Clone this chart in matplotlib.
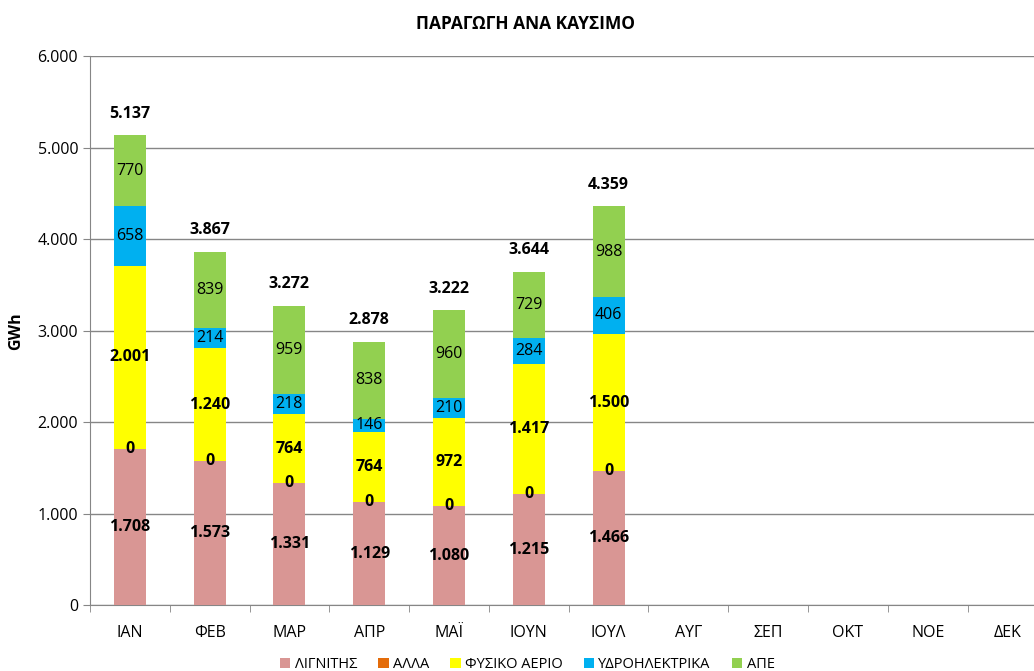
import matplotlib
matplotlib.use('Agg')
import matplotlib.pyplot as plt
import numpy as np

# Δεδομένα
months = ['ΙΑΝ', 'ΦΕΒ', 'ΜΑΡ', 'ΑΠΡ', 'ΜΑΪ', 'ΙΟΥΝ', 'ΙΟΥΛ', 'ΑΥΓ', 'ΣΕΠ', 'ΟΚΤ', 'ΝΟΕ', 'ΔΕΚ']
lignite = [1708, 1573, 1331, 1129, 1080, 1215, 1466]
other = [0, 0, 0, 0, 0, 0, 0]
gas = [2001, 1240, 764, 764, 972, 1417, 1500]
hydro = [658, 214, 218, 146, 210, 284, 406]
res = [770, 839, 959, 838, 960, 729, 988]
totals = [5137, 3867, 3272, 2878, 3222, 3644, 4359]

series_names = ['ΛΙΓΝΙΤΗΣ', 'ΑΛΛΑ', 'ΦΥΣΙΚΟ ΑΕΡΙΟ', 'ΥΔΡΟΗΛΕΚΤΡΙΚΑ', 'ΑΠΕ']
colors = ['#D99694', '#E46C0A', '#FFFF00', '#00B0F0', '#92D050']

plt.rcParams['font.family'] = ['Open Sans', 'DejaVu Sans']


def fmt(v):
    return f'{v:,.0f}'.replace(',', '.')


fig = plt.figure(figsize=(10.34, 6.71), dpi=100)
# ο άξονας συνεχίζει πέρα από το δεξί άκρο της εικόνας (όπως στο πρωτότυπο)
ax = fig.add_axes([0.087, 0.098, 0.926, 0.818])

x = np.arange(len(lignite))
width = 0.40
bottom = np.zeros(len(lignite))
all_series = [lignite, other, gas, hydro, res]
bold_flags = [True, True, True, False, False]
for vals, name, col, bold in zip(all_series, series_names, colors, bold_flags):
    vals = np.array(vals, dtype=float)
    ax.bar(x, vals, width, bottom=bottom, color=col, label=name, zorder=3)
    for xi, b, v in zip(x, bottom, vals):
        ax.text(xi, b + v / 2, fmt(v), ha='center', va='center', fontsize=11.5,
                fontweight='bold' if bold else 'normal', zorder=4)
    bottom = bottom + vals

for xi, t in zip(x, totals):
    ax.text(xi, t + 150, fmt(t), ha='center', va='bottom', fontsize=11.5,
            fontweight='bold')

ax.set_xlim(-0.5, len(months) - 0.5)
ax.set_ylim(0, 6000)
ax.set_yticks(np.arange(0, 6001, 1000))
ax.set_yticklabels([fmt(v) for v in np.arange(0, 6001, 1000)], fontsize=11.5)
ax.set_xticks(np.arange(len(months)))
ax.set_xticklabels(months, fontsize=11.5)
ax.set_xticks(np.arange(-0.5, len(months), 1), minor=True)
ax.tick_params(axis='x', which='major', length=0, pad=14)
ax.tick_params(axis='x', which='minor', length=5, color='#868686')
ax.tick_params(axis='y', length=5, color='#868686')
ax.yaxis.grid(True, color='#868686', linewidth=1, zorder=0)

for s in ['top', 'right']:
    ax.spines[s].set_visible(False)
ax.spines['left'].set_color('#868686')
ax.spines['bottom'].set_color('#868686')

ax.set_ylabel('GWh', fontsize=11.5, fontweight='bold', labelpad=10)
fig.suptitle('ΠΑΡΑΓΩΓΗ ΑΝΑ ΚΑΥΣΙΜΟ', fontsize=12.5, fontweight='bold', x=0.508, y=0.978)

ax.legend(loc='center', bbox_to_anchor=(0.51, 0.009), bbox_transform=fig.transFigure,
          ncol=5, frameon=False, fontsize=10.5, handlelength=0.7, handleheight=0.7,
          handletextpad=0.3, columnspacing=1.45)

fig.savefig('out.png', dpi=100)
